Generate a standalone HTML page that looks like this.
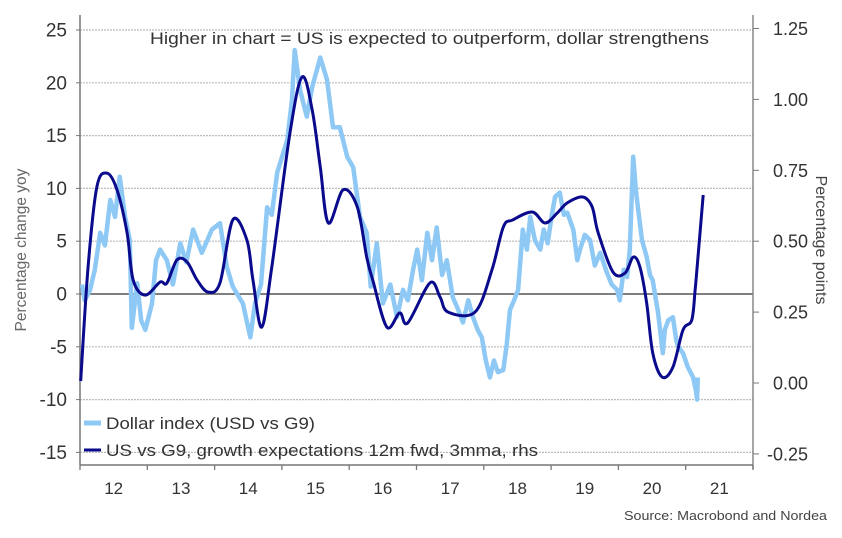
<!DOCTYPE html>
<html><head><meta charset="utf-8"><style>
body{margin:0;background:#fff;width:842px;height:538px;overflow:hidden}
svg{display:block;font-family:"Liberation Sans",sans-serif}
</style></head><body>
<svg id="chart" width="842" height="538">
<g id="grid"></g>
<g id="axes"></g>
<g id="series"></g>
<text x="150" y="44" font-size="17" textLength="559" lengthAdjust="spacingAndGlyphs" fill="#333">Higher in chart = US is expected to outperform, dollar strengthens</text>
<text transform="translate(26,250) rotate(-90)" text-anchor="middle" font-size="15.5" fill="#666">Percentage change yoy</text>
<text transform="translate(816,240) rotate(90)" text-anchor="middle" font-size="16" fill="#444">Percentage points</text>
<text x="624" y="520" font-size="13" textLength="203" lengthAdjust="spacingAndGlyphs" fill="#444">Source: Macrobond and Nordea</text>
<g>
<line x1="84" y1="423" x2="101" y2="423" stroke="#8ec8f5" stroke-width="5"/>
<text x="106" y="429" font-size="17" textLength="209" lengthAdjust="spacingAndGlyphs" fill="#333">Dollar index (USD vs G9)</text>
<line x1="84" y1="450" x2="101" y2="450" stroke="#0a0a8c" stroke-width="3"/>
<text x="106" y="456" font-size="17" textLength="432" lengthAdjust="spacingAndGlyphs" fill="#333">US vs G9, growth expectations 12m fwd, 3mma, rhs</text>
</g>
</svg>
<script>
const leftTicks=[25,20,15,10,5,0,-5,-10,-15];
const rightTicks=[1.25,1.00,0.75,0.50,0.25,0.00,-0.25];
const rightLabels=["1.25","1.00","0.75","0.50","0.25","0.00","-0.25"];
const yearTicks=[2012,2013,2014,2015,2016,2017,2018,2019,2020,2021,2022];
const yearLabels=["12","13","14","15","16","17","18","19","20","21"];
const dollarDates=[2012.03,2012.07,2012.15,2012.22,2012.30,2012.37,2012.45,2012.52,2012.59,2012.67,2012.74,2012.77,2012.85,2012.91,2012.97,2013.07,2013.13,2013.19,2013.29,2013.38,2013.49,2013.58,2013.68,2013.81,2013.96,2014.08,2014.18,2014.27,2014.42,2014.53,2014.60,2014.69,2014.78,2014.85,2014.93,2015.08,2015.15,2015.19,2015.27,2015.37,2015.45,2015.57,2015.67,2015.76,2015.86,2015.97,2016.06,2016.16,2016.26,2016.32,2016.41,2016.50,2016.61,2016.71,2016.80,2016.87,2016.95,2017.01,2017.08,2017.16,2017.23,2017.30,2017.38,2017.45,2017.54,2017.62,2017.69,2017.77,2017.84,2017.91,2017.97,2018.03,2018.09,2018.15,2018.21,2018.29,2018.34,2018.39,2018.45,2018.51,2018.58,2018.64,2018.69,2018.76,2018.84,2018.89,2018.95,2019.01,2019.06,2019.13,2019.19,2019.24,2019.33,2019.39,2019.43,2019.50,2019.58,2019.65,2019.73,2019.83,2019.90,2019.98,2020.02,2020.08,2020.13,2020.17,2020.22,2020.26,2020.29,2020.35,2020.42,2020.47,2020.51,2020.59,2020.66,2020.69,2020.74,2020.81,2020.86,2020.89,2020.96,2021.03,2021.11,2021.15,2021.17,2021.18];
const dollarValues=[0.9,-0.6,0.4,2.3,5.8,4.6,8.9,7.3,11.1,7.3,5.1,-3.2,1.0,-2.5,-3.4,-0.9,3.2,4.2,3.2,0.9,4.8,3.0,6.1,3.9,6.1,6.7,2.6,0.7,-0.9,-4.1,-0.9,0.9,8.2,7.5,11.5,14.6,18.4,23.1,19.3,16.8,19.6,22.4,20.3,15.8,15.8,13.0,12.0,7.3,5.8,0.7,4.8,-0.9,0.9,-2.2,0.4,-0.6,2.3,4.2,1.3,5.8,3.2,6.3,1.8,3.2,-0.3,-1.5,-2.7,-0.6,-2.2,-3.4,-4.1,-6.3,-7.9,-6.3,-7.4,-7.2,-4.8,-1.5,-0.6,0.4,6.1,4.2,7.3,5.1,4.2,6.1,4.8,7.5,9.2,9.6,7.5,7.7,6.1,3.2,4.2,5.6,5.1,2.7,3.9,2.0,0.9,0.4,-0.6,2.3,1.6,4.2,13.0,9.8,8.2,5.1,3.5,1.8,1.3,-1.8,-5.6,-3.4,-2.5,-2.2,-4.4,-5.0,-5.6,-6.9,-7.9,-9.1,-10.0,-7.9];
const growthDates=[2012.01,2012.12,2012.25,2012.40,2012.55,2012.70,2012.79,2012.97,2013.19,2013.29,2013.44,2013.59,2013.74,2013.90,2014.08,2014.27,2014.48,2014.57,2014.70,2014.85,2015.12,2015.30,2015.45,2015.57,2015.69,2015.91,2016.12,2016.26,2016.35,2016.56,2016.75,2016.87,2017.20,2017.35,2017.47,2017.87,2018.12,2018.29,2018.43,2018.72,2018.91,2019.09,2019.24,2019.47,2019.61,2019.70,2019.92,2020.10,2020.22,2020.32,2020.42,2020.51,2020.65,2020.81,2020.96,2021.09,2021.14,2021.17,2021.26];
const growthValues=[0.007,0.409,0.691,0.740,0.681,0.529,0.363,0.310,0.356,0.352,0.434,0.427,0.363,0.321,0.353,0.575,0.504,0.363,0.197,0.409,0.882,1.079,0.963,0.762,0.564,0.681,0.621,0.444,0.363,0.197,0.247,0.212,0.353,0.303,0.250,0.250,0.398,0.550,0.575,0.603,0.564,0.599,0.635,0.656,0.621,0.529,0.391,0.388,0.444,0.409,0.282,0.106,0.021,0.056,0.187,0.222,0.328,0.409,0.663];

const NS="http://www.w3.org/2000/svg";
const X0=80,X1=753,Y0=15,YB=465;
const xs=t=>X0+(t-2012)*(X1-X0)/10;
const yl=v=>294-v*10.56;
const yr=v=>383-v*283.6;
function mk(tag,attrs,parent){const e=document.createElementNS(NS,tag);for(const k in attrs)e.setAttribute(k,attrs[k]);parent.appendChild(e);return e;}
const grid=document.getElementById('grid'),axes=document.getElementById('axes'),series=document.getElementById('series');
leftTicks.forEach(v=>{
  const y=yl(v);
  const l=mk('line',{x1:X0,x2:X1,y1:y,y2:y,stroke:v===0?'#555':'#bbb','stroke-width':v===0?1.6:1.2,'stroke-dasharray':v===0?'none':'2 1'},grid);
  
  
  const tk=mk('line',{x1:X0-4,x2:X0,y1:y,y2:y,stroke:'#777'},axes);
  
  
  const t=mk('text',{x:67,y:y+6.5,'text-anchor':'end','font-size':19,fill:'#333'},axes);
  t.textContent=String(v);
  
  
});
rightTicks.forEach((v,i)=>{
  const y=yr(v);
  const tk=mk('line',{x1:X1,x2:X1+6,y1:y,y2:y,stroke:'#777'},axes);
  
  
  const t=mk('text',{x:808,y:y+6.5,'text-anchor':'end','font-size':18,fill:'#333'},axes);
  t.textContent=rightLabels[i];
  
  
});
const la=mk('line',{x1:X0,x2:X0,y1:Y0,y2:YB,stroke:'#777','stroke-width':1.5},axes);


const ra=mk('line',{x1:X1,x2:X1,y1:Y0,y2:YB+4,stroke:'#888','stroke-width':1.5},axes);


const ba=mk('line',{x1:X0,x2:X1,y1:YB,y2:YB,stroke:'#777','stroke-width':1.5},axes);


yearTicks.forEach(t=>{
  const tk=mk('line',{x1:xs(t),x2:xs(t),y1:YB,y2:YB+5,stroke:'#777','stroke-width':1.3},axes);
  
  
});
yearLabels.forEach((s,i)=>{
  const t=mk('text',{x:(xs(yearTicks[i])+xs(yearTicks[i+1]))/2,y:494,'text-anchor':'middle','font-size':17,fill:'#333'},axes);
  t.textContent=s;
  
  
});
let d='';dollarDates.forEach((t,i)=>{d+=(i?'L':'M')+xs(t).toFixed(1)+','+yl(dollarValues[i]).toFixed(1);});
const dl=mk('path',{d:d,fill:'none',stroke:'#8ec8f5','stroke-width':4.5,'stroke-linejoin':'round'},series);


const pts=growthDates.map((t,i)=>[xs(t),yr(growthValues[i])]);
let g='M'+pts[0][0]+','+pts[0][1];
for(let i=0;i<pts.length-1;i++){
  const p0=pts[Math.max(0,i-1)],p1=pts[i],p2=pts[i+1],p3=pts[Math.min(pts.length-1,i+2)];
  const c1=[p1[0]+(p2[0]-p0[0])/6,p1[1]+(p2[1]-p0[1])/6],c2=[p2[0]-(p3[0]-p1[0])/6,p2[1]-(p3[1]-p1[1])/6];
  g+='C'+c1.join(',')+' '+c2.join(',')+' '+p2.join(',');
}
const gl=mk('path',{d:g,fill:'none',stroke:'#0a0a8c','stroke-width':3,'stroke-linejoin':'round'},series);


</script>
</body></html>
